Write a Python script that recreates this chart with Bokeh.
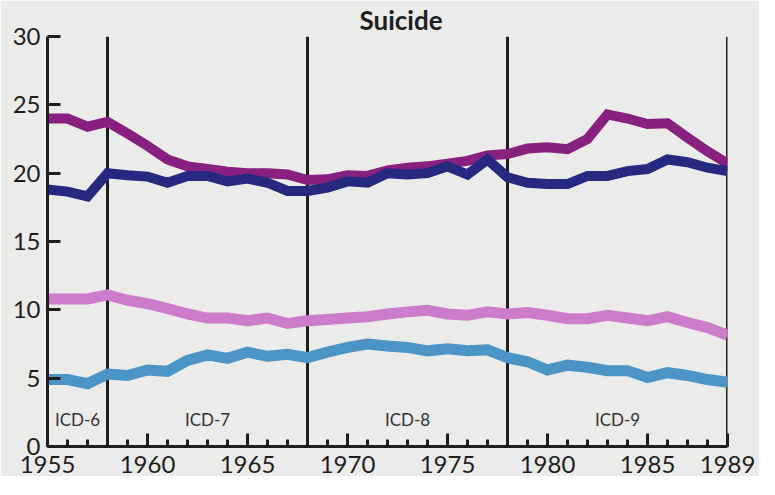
from bokeh.plotting import figure
from bokeh.models import FixedTicker, ColumnDataSource, Title
from bokeh.core.properties import value
from bokeh.embed import file_html
from bokeh.resources import INLINE

years = list(range(1955, 1990))
series_purple = [24.0, 24.0, 23.4, 23.75, 22.9, 22.0, 21.0, 20.5, 20.3, 20.1,
                 20.0, 20.0, 19.9, 19.5, 19.55, 19.85, 19.8, 20.2, 20.4, 20.5,
                 20.7, 20.9, 21.3, 21.4, 21.8, 21.9, 21.75, 22.5, 24.3, 24.0,
                 23.6, 23.65, 22.6, 21.6, 20.7]
series_navy = [18.8, 18.65, 18.3, 20.0, 19.85, 19.75, 19.3, 19.8, 19.8, 19.4,
               19.6, 19.3, 18.7, 18.7, 18.95, 19.4, 19.3, 20.0, 19.9, 20.0,
               20.5, 19.9, 21.0, 19.7, 19.3, 19.2, 19.2, 19.8, 19.8, 20.15,
               20.3, 21.0, 20.8, 20.4, 20.15]
series_pink = [10.8, 10.8, 10.8, 11.1, 10.7, 10.45, 10.1, 9.7, 9.4, 9.4,
               9.2, 9.4, 9.0, 9.2, 9.3, 9.4, 9.5, 9.7, 9.85, 9.97,
               9.7, 9.6, 9.85, 9.7, 9.8, 9.6, 9.35, 9.35, 9.6, 9.4,
               9.2, 9.5, 9.07, 8.7, 8.15]
series_teal = [4.9, 4.9, 4.6, 5.3, 5.2, 5.6, 5.5, 6.3, 6.7, 6.45,
               6.9, 6.6, 6.75, 6.5, 6.9, 7.25, 7.5, 7.35, 7.25, 7.0,
               7.15, 7.0, 7.07, 6.5, 6.2, 5.6, 5.95, 5.8, 5.55, 5.55,
               5.05, 5.4, 5.2, 4.9, 4.7]
revision_years = [1955, 1958, 1968, 1978, 1989]
icd_labels = ["ICD-6", "ICD-7", "ICD-8", "ICD-9"]
x_tick_labels = [1955, 1960, 1965, 1970, 1975, 1980, 1985, 1989]
y_ticks = [0, 5, 10, 15, 20, 25, 30]

BG = "#ebebea"
INK = "#1e1e1e"
FONT = "Lato"

p = figure(frame_width=680, frame_height=410,
           x_range=(1955, 1989), y_range=(0, 30),
           output_backend="svg", toolbar_location=None,
           background_fill_color=BG, border_fill_color=BG,
           min_border_left=47, min_border_right=32, min_border_top=36,
           min_border_bottom=30)
p.outline_line_color = None
p.grid.visible = False

t = Title(text="Suicide", align="left", offset=312,
          text_font=FONT, text_font_size="26px", text_font_style="bold",
          text_color=INK, standoff=1)
p.add_layout(t, "above")

# axes
p.xaxis.ticker = FixedTicker(ticks=x_tick_labels, minor_ticks=years)
p.yaxis.ticker = FixedTicker(ticks=y_ticks)
for ax in (p.xaxis, p.yaxis):
    ax.axis_line_color = INK
    ax.axis_line_width = 3
    ax.major_tick_line_color = INK
    ax.major_tick_line_width = 3
    ax.major_tick_out = 0
    ax.major_tick_in = 13
    ax.minor_tick_out = 0
    ax.major_label_text_font = FONT
    ax.major_label_text_font_size = "24px"
    ax.major_label_text_color = INK
p.xaxis.minor_tick_in = 7
p.xaxis.minor_tick_line_color = INK
p.xaxis.minor_tick_line_width = 3
p.yaxis.minor_tick_line_color = None
p.xaxis.major_label_standoff = 9
p.yaxis.major_label_standoff = 7

# revision boundaries
p.segment(x0=revision_years[1:], y0=[0] * 4, x1=revision_years[1:], y1=[30] * 4,
          line_color=INK, line_width=3)

# series
p.line(years, series_purple, line_color="#87207f", line_width=10, line_join="miter")
p.line(years, series_navy, line_color="#25297f", line_width=10, line_join="miter")
p.line(years, series_pink, line_color="#cc7ccb", line_width=11, line_join="miter")
p.line(years, series_teal, line_color="#4b94c6", line_width=11, line_join="miter")

# ICD labels centred within each revision period
mids = [(a + b) / 2 for a, b in zip(revision_years[:-1], revision_years[1:])]
src = ColumnDataSource(dict(x=mids, y=[2.0] * 4, t=icd_labels))
p.text(x="x", y="y", text="t", source=src, text_align="center",
       text_baseline="middle", text_font=value(FONT), text_font_size="17px",
       text_color="#333333")

open("out.html", "w").write(file_html(p, INLINE))
